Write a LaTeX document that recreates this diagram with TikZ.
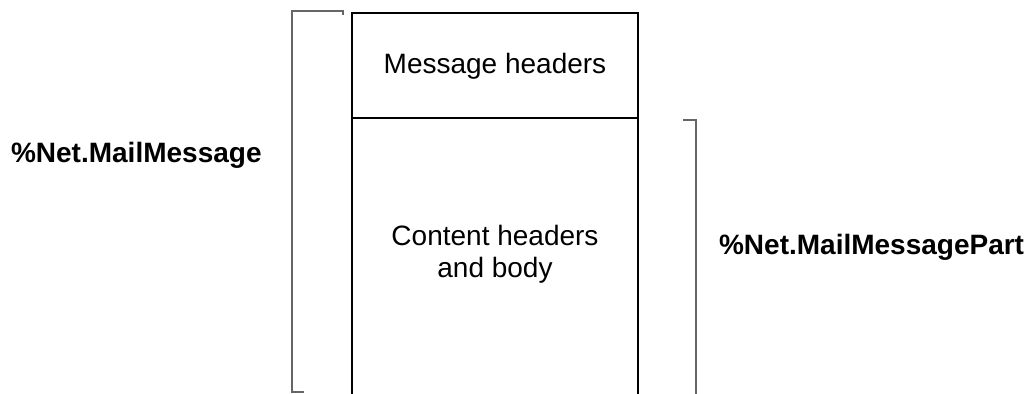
\documentclass[tikz,border=0pt]{standalone}
\usepackage{fontspec}
\setmainfont{Liberation Sans}
\tikzset{
  boxline/.style={line width=1.3pt, black},
  bracketline/.style={line width=0.9pt, gray!80!black},
  boxtext/.style={font=\fontsize{14}{16}\selectfont, align=center},
  classlabel/.style={font=\bfseries\fontsize{14}{16}\selectfont}
}

\begin{document}
\begin{tikzpicture}[x=0.5pt, y=-0.5pt]
\useasboundingbox (0,0) rectangle (1027,393);
% message box
\draw[boxline] (352,400) -- (352,13) -- (638,13) -- (638,400);
\draw[boxline] (352,118) -- (638,118);
\node[boxtext] (hdr) at (495,66) {Message headers};
\node[boxtext] (body) at (495,254) {Content headers\\[0pt]and body};
% brackets
\draw[bracketline] (343,15) -- (343,11) -- (292,11) -- (292,392) -- (304,392);
\draw[bracketline] (683,120) -- (696,120) -- (696,400);
\node[classlabel, anchor=west] (msg) at (4,155) {\%Net.MailMessage};
\node[classlabel, anchor=west] (part) at (712,247) {\%Net.MailMessagePart};
\end{tikzpicture}
\end{document}
